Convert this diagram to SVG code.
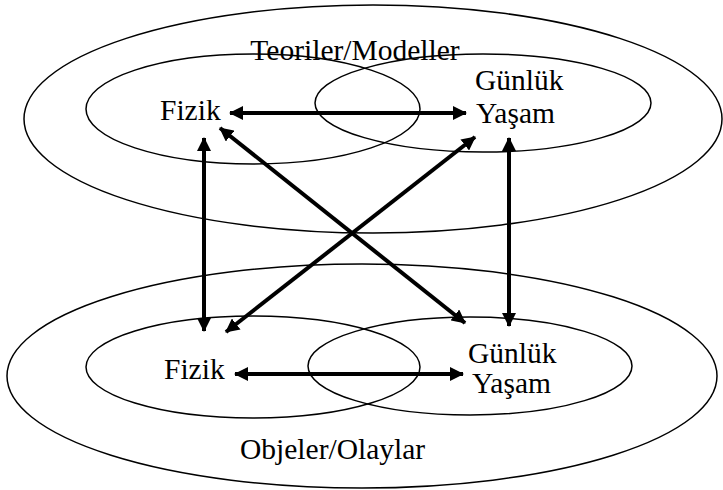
<svg xmlns="http://www.w3.org/2000/svg" width="723" height="490" viewBox="0 0 723 490">
<style>
.e{fill:none;stroke:#000;stroke-width:1.5}
.a{stroke:#000;stroke-width:4;fill:none;marker-start:url(#ah);marker-end:url(#ah)}
</style>
<defs>
<marker id="ah" markerUnits="userSpaceOnUse" markerWidth="14" markerHeight="14" viewBox="0 0 14 14" refX="13" refY="7" orient="auto-start-reverse">
<path d="M0,0 L14,7 L0,14 z" fill="#000"/>
</marker>
</defs>
<rect width="723" height="490" fill="#fff"/>
<g font-family="Liberation Serif" font-size="29.5" fill="#000">
<g id="theories">
<ellipse class="e" cx="373" cy="119" rx="349" ry="114"/>
<text x="355" y="60" text-anchor="middle">Teoriler/Modeller</text>
</g>
<g id="theory-physics">
<ellipse class="e" cx="253" cy="109" rx="167" ry="55"/>
<text x="160" y="120">Fizik</text>
</g>
<g id="theory-daily">
<ellipse class="e" cx="483" cy="103" rx="168" ry="49"/>
<text x="475" y="90">Günlük</text>
<text x="476" y="123">Yaşam</text>
</g>
<g id="objects">
<ellipse class="e" cx="362" cy="376" rx="355" ry="112"/>
<text x="240" y="459">Objeler/Olaylar</text>
</g>
<g id="object-physics">
<ellipse class="e" cx="253" cy="367" rx="167" ry="51"/>
<text x="164" y="379">Fizik</text>
</g>
<g id="object-daily">
<ellipse class="e" cx="470" cy="366" rx="162" ry="49"/>
<text x="468" y="363">Günlük</text>
<text x="472" y="393">Yaşam</text>
</g>
</g>
<g id="connectors">
<line class="a" x1="230" y1="113" x2="466" y2="113"/>
<line class="a" x1="235" y1="374" x2="463" y2="374"/>
<line class="a" x1="204" y1="138" x2="204" y2="331"/>
<line class="a" x1="509" y1="138" x2="509" y2="326"/>
<line class="a" x1="220" y1="128" x2="465" y2="323"/>
<line class="a" x1="475" y1="137" x2="226" y2="332"/>
</g>
</svg>
